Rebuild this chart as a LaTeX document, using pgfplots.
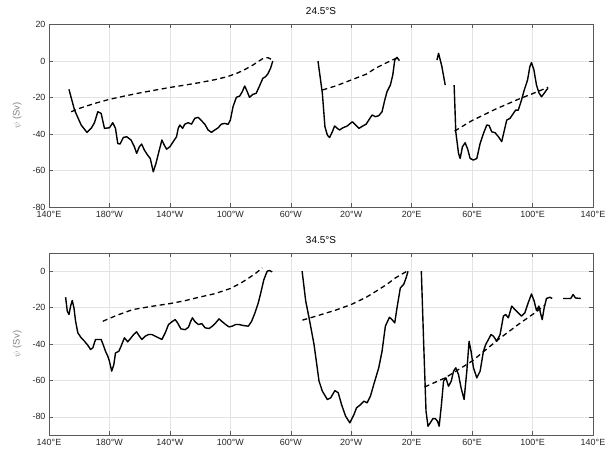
\documentclass[border=0pt]{standalone}
\usepackage{fontspec}
\setmainfont{Liberation Sans}
\usepackage{pgfplots}
\pgfplotsset{compat=1.18}
\begin{document}
\begin{tikzpicture}
\pgfplotsset{
  ocean/.style={
    width=544bp, height=182.5bp, scale only axis,
    xmin=140, xmax=500,
    xtick={140,180,...,500},
    xticklabels={140°E,180°W,140°W,100°W,60°W,20°W,20°E,60°E,100°E,140°E},
    grid=major,
    grid style={gray!22, line width=0.4pt},
    axis line style={gray!70!black, line width=0.5pt},
    tick align=inside,
    major tick length=4bp,
    tick style={gray!70!black, line width=0.5pt},
    ticklabel style={font=\fontsize{9}{10}\selectfont, text=black!85},
    xticklabel style={yshift=-1bp},
    /pgf/number format/assume math mode=true,
    ylabel={$\psi$ (Sv)},
    ylabel style={font=\fontsize{9.5}{10}\selectfont, text=gray, yshift=4bp},
    title style={font=\fontsize{10}{11}\selectfont},
  },
  sol/.style={black, solid, no markers, line width=1.4pt, line join=round},
  clim/.style={black, no markers, dash pattern=on 5bp off 3.5bp, line width=1.3pt},
}
\useasboundingbox (-49bp,-16bp) rectangle (557bp,435bp);

% 24.5 S
\begin{axis}[ocean, at={(0bp,228bp)}, ymin=-80, ymax=20, ytick={-80,-60,...,20}, title={24.5°S}]
% Pacific
\addplot[sol] coordinates {
(153.2,-15.5) (156.9,-26.9) (161.3,-35.1) (165.1,-39.1) (167.9,-36.9) (170.1,-33.8)
(172.3,-27.8) (174.5,-28.7) (176.7,-36.9) (180.0,-36.6) (182.2,-33.8) (184.0,-36.9)
(185.5,-45.2) (187.0,-45.5) (189.2,-41.9) (191.4,-41.5) (194.3,-43.3) (196.5,-47.0)
(198.0,-50.6) (199.8,-47.0) (201.3,-45.5) (203.1,-48.8) (205.3,-51.6) (207.0,-53.4)
(209.0,-60.7) (210.8,-56.1) (213.0,-48.8) (214.7,-43.3) (216.3,-46.1) (217.8,-48.3)
(220.0,-47.0) (222.2,-44.2) (224.4,-41.5) (225.5,-36.9) (226.6,-35.1) (228.4,-36.9)
(229.9,-34.6) (232.1,-33.8) (234.3,-34.6) (236.5,-31.4) (238.7,-30.9) (240.9,-32.7)
(243.1,-34.6) (245.3,-37.8) (247.5,-39.1) (249.7,-37.8) (251.9,-36.6) (254.1,-34.6)
(256.3,-34.2) (258.5,-34.7) (260.0,-32.4) (261.8,-25.0) (264.0,-19.9) (266.2,-19.2)
(267.9,-16.8) (269.5,-13.7) (271.2,-16.8) (272.7,-19.9) (274.9,-18.3) (277.1,-17.7)
(279.3,-13.7) (281.5,-9.5) (283.3,-8.6) (284.8,-7.1) (286.6,-4.0) (288.1,0)
};
\addplot[clim] coordinates {
(154.7,-27.8) (160,-26) (170,-23.3) (180,-21.0) (190,-19.2) (200,-17.5) (210,-16.0)
(220,-14.5) (230,-13.2) (240,-11.8) (250,-10.2) (258,-8.6) (265,-6.5) (270,-4.5)
(275,-2.2) (279,0) (282,1.6) (285,1.8) (288,0.5)
};
% Atlantic
\addplot[sol] coordinates {
(318.0,0) (320.9,-17.7) (322.6,-36.0) (324.2,-40.6) (325.7,-41.9) (327.5,-38.8)
(329.0,-35.6) (330.8,-36.9) (332.3,-37.8) (334.5,-36.6) (337.4,-35.6) (340.7,-33.3)
(342.9,-35.1) (345.1,-36.9) (347.7,-35.6) (349.9,-34.6) (351.6,-32.4) (353.8,-29.6)
(356.0,-30.5) (358.2,-30.0) (360.4,-27.8) (362.2,-21.4) (363.7,-16.8) (365.9,-13.2)
(367.5,-7.7) (368.8,0.5) (370.3,2.0) (371.9,0.2)
};
\addplot[clim] coordinates {
(320.9,-15.9) (330,-13.6) (340,-10.4) (350,-7.2) (356,-4.0) (362,-1.5) (367,0.5) (371.4,2.0)
};
% Indian
\addplot[sol] coordinates {
(396.7,0.5) (397.8,4.2) (400.0,-3.1) (402.2,-13.2)
};
\addplot[sol] coordinates {
(408.1,-13.2) (409.2,-38.8) (411.0,-50.6) (412.1,-53.4) (413.6,-47.0) (415.4,-44.8)
(417.1,-48.4) (418.7,-53.4) (420.9,-54.3) (423.1,-53.4) (425.3,-45.2) (427.5,-39.7)
(429.7,-35.1) (431.2,-35.3) (433.0,-38.8) (435.2,-39.3) (437.4,-41.5) (439.6,-44.2)
(441.1,-38.8) (442.9,-32.4) (445.1,-31.4) (447.3,-28.7) (448.8,-26.9) (450.5,-27.0)
(452.7,-21.4) (454.5,-15.9) (456.7,-10.4) (458.2,-3.1) (459.3,-0.9) (460.9,-4.9)
(462.6,-13.2) (464.2,-17.4) (465.9,-19.6) (467.7,-17.7) (469.2,-15.9) (470.3,-15.0)
};
\addplot[clim] coordinates {
(408.4,-38.4) (419.8,-32.7) (435.2,-26.5) (450.5,-21.0) (461.5,-17.4) (470.3,-14.4)
};
\end{axis}

% 34.5 S
\begin{axis}[ocean, at={(0bp,0bp)}, height=182bp, ymin=-90, ymax=10, ytick={-80,-60,...,0}, title={34.5°S}]
% Pacific
\addplot[sol] coordinates {
(151.0,-14.3) (152.1,-22.0) (153.2,-23.8) (154.3,-19.2) (155.4,-16.1) (156.5,-20.1)
(157.6,-27.5) (159.1,-33.9) (161.3,-36.6) (163.5,-38.5) (165.7,-40.7) (167.5,-43.0)
(169.0,-42.1) (170.8,-37.5) (173.0,-37.5) (174.5,-37.5) (176.0,-40.7) (177.4,-44.0)
(178.9,-46.7) (180.0,-49.5) (181.5,-54.9) (182.9,-51.3) (184.0,-44.9) (186.2,-44.0)
(187.7,-41.2) (189.9,-36.6) (192.1,-38.8) (194.3,-36.6) (196.0,-34.8) (198.0,-33.3)
(199.8,-35.7) (201.5,-37.5) (203.7,-35.7) (205.9,-34.8) (208.1,-34.8) (210.3,-35.7)
(212.5,-36.6) (214.7,-37.5) (216.9,-33.9) (219.1,-29.3) (221.3,-27.8) (223.5,-26.6)
(225.1,-28.4) (227.3,-31.7) (230.1,-32.1) (232.3,-30.8) (233.8,-27.5) (234.9,-25.6)
(236.7,-27.8) (238.9,-29.3) (241.1,-28.8) (243.3,-31.1) (245.9,-31.5) (248.1,-30.2)
(250.3,-28.4) (252.5,-26.2) (254.7,-27.8) (256.9,-29.3) (259.1,-30.6) (261.3,-30.2)
(263.5,-29.3) (265.7,-29.3) (269.0,-29.9) (271.9,-30.2) (274.1,-27.5) (276.3,-22.9)
(278.5,-17.4) (280.4,-11.0) (282.2,-4.6) (284.4,0) (285.9,0.4) (287.7,-0.4)
};
\addplot[clim] coordinates {
(175.6,-27.5) (185,-24.2) (195.4,-21.1) (208,-19.3) (220,-17.8) (230,-16.2) (239.3,-14.3)
(250,-12.3) (260,-9.5) (267,-6.5) (272.3,-3.7) (277,-1.0) (281.1,1.8)
};
% Atlantic
\addplot[sol] coordinates {
(307.5,0) (309.9,-16.5) (312.1,-25.6) (315.4,-40.3) (318.7,-60.4) (320.9,-65.9)
(324.2,-70.5) (326.4,-69.6) (329.2,-65.6) (331.4,-66.8) (333.6,-73.3) (336.3,-79.7)
(339.1,-83.3) (341.8,-78.8) (343.5,-75.1) (346.2,-73.3) (348.4,-71.4) (350.5,-72.3)
(352.7,-68.7) (354.9,-62.3) (358.2,-53.1) (360.4,-44.0) (362.6,-30.2) (365.3,-25.3)
(367.0,-26.6) (368.8,-28.4) (370.3,-20.1) (372.5,-9.2) (374.7,-7.3) (376.3,-3.7) (377.6,0)
};
\addplot[clim] coordinates {
(307.7,-26.9) (318.7,-24.2) (330,-21.3) (340,-18.3) (350,-14.3) (358.2,-10.1)
(364,-7.0) (369.2,-3.7) (376.9,0)
};
% Indian
\addplot[sol] coordinates {
(386.4,0) (387.9,-38.5) (389.5,-76.9) (390.8,-85.2) (392.3,-83.3) (394.1,-81.0)
(395.6,-81.0) (397.1,-82.4) (398.2,-85.2) (399.6,-74.2) (401.1,-60.4) (402.6,-58.6)
(404.4,-63.2) (406.2,-60.4) (407.7,-54.9) (409.2,-53.1) (411.0,-56.8) (412.7,-64.1)
(414.7,-70.5) (416.5,-54.9) (418.0,-38.5) (419.3,-44.0) (420.9,-53.1) (423.1,-58.6)
(425.3,-54.9) (427.5,-44.0) (429.0,-40.3) (430.8,-37.5) (432.5,-34.8) (434.1,-35.7)
(436.3,-38.5) (438.5,-34.8) (440.7,-24.7) (442.2,-23.8) (444.0,-25.6) (446.2,-19.2)
(448.4,-21.1) (450.5,-22.9) (452.7,-24.7) (454.9,-22.9) (457.1,-17.4) (459.3,-12.5)
(461.1,-16.5) (462.6,-21.6) (464.2,-19.2) (465.5,-23.8) (466.4,-26.6) (467.7,-20.1)
(469.2,-15.0) (471.4,-14.3) (473.0,-15.0)
};
\addplot[sol] coordinates {
(480.2,-15.0) (485.3,-15.0) (486.8,-12.8) (488.4,-14.7) (491.9,-15.0)
};
\addplot[clim] coordinates {
(388.6,-63.6) (402.2,-58.6) (419.8,-49.5) (437.4,-37.5) (450.5,-29.3) (461.5,-22.9) (468.1,-18.7)
};
\end{axis}
\end{tikzpicture}
\end{document}
